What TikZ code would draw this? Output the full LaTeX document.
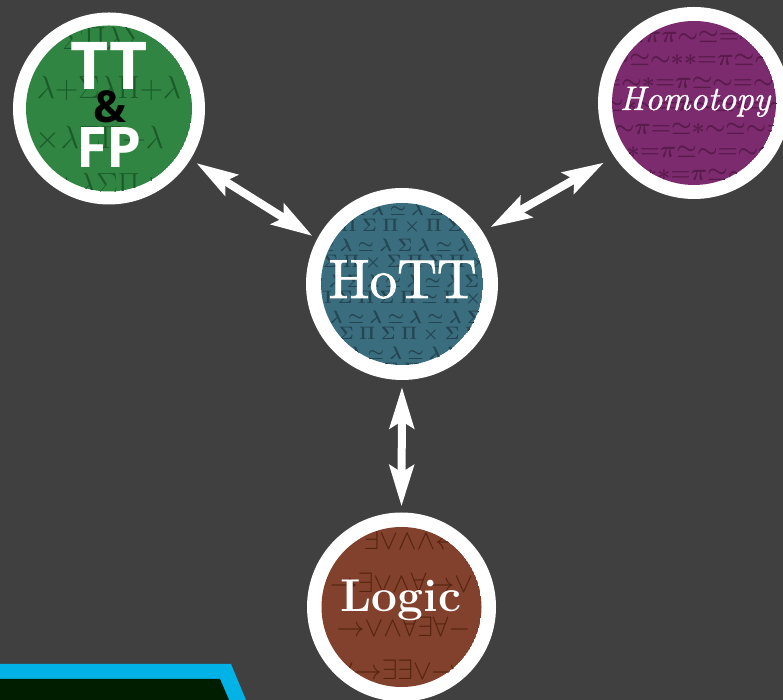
\RequirePackage{fix-cm}
\documentclass[tikz,border=0pt]{standalone}
\usepackage{fontspec}
\newfontfamily\headsans{Open Sans}
\newfontfamily\heavyserif{lmroman10-regular.otf}[FakeBold=1.6]
\newfontfamily\swashserif{lmroman10-italic.otf}[FakeBold=0.8]
\usetikzlibrary{arrows.meta}

\definecolor{bg}{HTML}{404040}
\definecolor{ttfill}{HTML}{2F8541}
\definecolor{ttglyph}{HTML}{1B5A29}
\definecolor{hottfill}{HTML}{3A6E7F}
\definecolor{hottglyph}{HTML}{244652}
\definecolor{homfill}{HTML}{7D2B6F}
\definecolor{homglyph}{HTML}{5A1A4C}
\definecolor{logfill}{HTML}{82412C}
\definecolor{logglyph}{HTML}{55230F}
\definecolor{bannerblue}{HTML}{00B2E6}
\definecolor{bannerdark}{HTML}{011E01}

\tikzset{
  disk/.style={circle, fill=white, minimum size=192pt, inner sep=0pt, outer sep=0pt},
  glyphs/.style={inner sep=0pt, anchor=center, font=\fontsize{#1}{#1}\selectfont},
  heavyglyphs/.style={inner sep=0pt, anchor=center, font=\fontsize{#1}{#1}\selectfont\boldmath},
  label/.style={inner sep=0pt, anchor=base, text=white},
  link/.style={white, line width=8pt,
    {Stealth[length=41pt,width=24pt,inset=7pt]}-{Stealth[length=41pt,width=24pt,inset=7pt]}},
}

\begin{document}
\begin{tikzpicture}[x=1pt,y=1pt]
\useasboundingbox (0,0) rectangle (783,700);
\fill[bg] (0,0) rectangle (783,700);

% banner in the lower left corner
\fill[bannerblue] (0,0) -- (0,36) -- (231,36) -- (246,0) -- cycle;
\fill[bannerdark] (0,0) -- (0,21) -- (220,21) -- (229,0) -- cycle;

% white rings
\node[disk] (tt) at (109,591.5) {};
\node[disk] (hott) at (402,416) {};
\node[disk] (hom) at (694,597) {};
\node[disk, minimum size=189pt] (logic) at (401.5,93) {};

% type theory & functional programming
\begin{scope}[shift={(tt.center)}]
  \clip (0,0) circle (83);
  \fill[ttfill] (0,0) circle (83);
  \node[glyphs=32, text=ttglyph] (tt-g1) at (-5,70) {${\Sigma}{\Pi}{\lambda}{\Sigma}$};
  \node[glyphs=32, text=ttglyph] (tt-g2) at (0,20) {${\lambda}{+}{\Sigma}{\lambda}{\Pi}{+}{\lambda}$};
  \node[glyphs=32, text=ttglyph] (tt-g3) at (-9,-30) {${\times}{\lambda}{\Sigma}{\Pi}{+}{\lambda}$};
  \node[glyphs=32, text=ttglyph] (tt-g4) at (0,-77) {${+}{\lambda}{\Sigma}{\Pi}{+}$};
\end{scope}

% homotopy type theory
\begin{scope}[shift={(hott.center)}]
  \clip (0,0) circle (81);
  \fill[hottfill] (0,0) circle (81);
  \node[heavyglyphs=18, text=hottglyph] (hott-g1) at (4,75) {${\simeq}\;{\lambda}\;{\simeq}\;{\lambda}\;{\simeq}\;{\lambda}\;{\Sigma}\;{\lambda}\;{\simeq}\;{\lambda}$};
  \node[heavyglyphs=18, text=hottglyph] (hott-g2) at (0,57) {${\times}\;{\Sigma}\;{\Pi}\;{\Sigma}\;{\Pi}\;{\times}\;{\Pi}\;{\Sigma}\;{\Pi}\;{\times}$};
  \node[heavyglyphs=18, text=hottglyph] (hott-g3) at (-6,39) {${\lambda}\;{\simeq}\;{\lambda}\;{\simeq}\;{\lambda}\;{\Sigma}\;{\lambda}\;{\simeq}\;{\lambda}\;{\simeq}$};
  \node[heavyglyphs=18, text=hottglyph] (hott-g4) at (3,21) {${\Pi}\;{\Sigma}\;{\Pi}\;{\times}\;{\Sigma}\;{\Pi}\;{\Sigma}\;{\Pi}\;{\times}\;{\Pi}$};
  \node[heavyglyphs=18, text=hottglyph] (hott-g5) at (0,3) {${\simeq}\;{\lambda}\;{\Sigma}\;{\lambda}\;{\simeq}\;{\lambda}\;{\simeq}\;{\lambda}\;{\Sigma}\;{\lambda}$};
  \node[heavyglyphs=18, text=hottglyph] (hott-g6) at (-4,-15) {${\times}\;{\Pi}\;{\Sigma}\;{\Pi}\;{\Sigma}\;{\Pi}\;{\simeq}\;{\Pi}\;{\times}\;{\Sigma}$};
  \node[heavyglyphs=18, text=hottglyph] (hott-g7) at (2,-33) {${\simeq}\;{\lambda}\;{\simeq}\;{\lambda}\;{\simeq}\;{\lambda}\;{\simeq}\;{\lambda}\;{\Sigma}\;{\lambda}$};
  \node[heavyglyphs=18, text=hottglyph] (hott-g8) at (-2,-51) {${\Sigma}\;{\Pi}\;{\Sigma}\;{\Pi}\;{\Sigma}\;{\Pi}\;{\times}\;{\Sigma}\;{\Pi}\;{\times}$};
  \node[heavyglyphs=18, text=hottglyph] (hott-g9) at (4,-69) {${\lambda}\;{\simeq}\;{\lambda}\;{\simeq}\;{\lambda}\;{\simeq}\;{\lambda}\;{\Sigma}\;{\lambda}\;{\simeq}$};
  \node[heavyglyphs=18, text=hottglyph] (hott-g10) at (0,-87) {${\Pi}\;{\times}\;{\Sigma}\;{\Pi}\;{\Sigma}\;{\Pi}\;{\times}\;{\Pi}\;{\Sigma}\;{\Pi}$};
\end{scope}

% homotopy theory
\begin{scope}[shift={(hom.center)}]
  \clip (0,0) circle (82);
  \fill[homfill] (0,0) circle (82);
  \node[heavyglyphs=23, text=homglyph] (hom-g0) at (0,89) {${\sim}{=}{\simeq}{\pi}{\pi}{\sim}{=}{\ast}{\simeq}{\pi}$};
  \node[heavyglyphs=23, text=homglyph] (hom-g1) at (6,66) {${\ast}{\simeq}{\pi}{\pi}{\sim}{\simeq}{=}{\sim}{\ast}{\pi}$};
  \node[heavyglyphs=23, text=homglyph] (hom-g2) at (8,43) {${\sim}{\simeq}{\sim}{\ast}{\ast}{=}{\pi}{\simeq}{\sim}{=}$};
  \node[heavyglyphs=23, text=homglyph] (hom-g3) at (0,20) {${=}{\sim}{\ast}{=}{\pi}{\simeq}{\sim}{=}{\sim}{\ast}$};
  \node[heavyglyphs=23, text=homglyph] (hom-g4) at (2,-3) {${\simeq}{\ast}{\sim}{=}{\pi}{\sim}{\simeq}{\ast}{=}{\sim}$};
  \node[heavyglyphs=23, text=homglyph] (hom-g5) at (-2,-26) {${\pi}{\sim}{\pi}{=}{\simeq}{\ast}{\sim}{\simeq}{\sim}{=}$};
  \node[heavyglyphs=23, text=homglyph] (hom-g6) at (3,-49) {${\sim}{\ast}{=}{\pi}{\simeq}{\sim}{=}{\sim}{\pi}{\ast}$};
  \node[heavyglyphs=23, text=homglyph] (hom-g7) at (0,-72) {${\simeq}{\sim}{\ast}{\ast}{=}{\pi}{\simeq}{\sim}{=}{\pi}$};
\end{scope}

% logic
\begin{scope}[shift={(logic.center)}]
  \clip (0,0) circle (80);
  \fill[logfill] (0,0) circle (80);
  \node[glyphs=28, text=logglyph] (logic-g1) at (12,67) {${\exists}{\vee}{\wedge}{\wedge}{\leftarrow}$};
  \node[glyphs=28, text=logglyph] (logic-g2) at (0,24) {${\to}{\exists}{\vee}{\wedge}{\forall}{\to}{\vee}$};
  \node[glyphs=28, text=logglyph] (logic-g3) at (2,-21) {${\to}{\vee}{\wedge}{\forall}{\exists}{\forall}{-}$};
  \node[glyphs=28, text=logglyph] (logic-g4) at (-4,-63) {${\vee}{\to}{\exists}{\exists}{\vee}{\to}$};
\end{scope}

% labels
\node[label, font=\headsans\bfseries\fontsize{66}{66}\selectfont] (tt-top) at (109,610) {TT};
\node[label, text=black, font=\headsans\bfseries\fontsize{44}{44}\selectfont] (tt-amp) at (110,577) {\&};
\node[label, font=\headsans\bfseries\fontsize{56}{56}\selectfont] (tt-bottom) at (109,532) {FP};
\node[label, font=\heavyserif\fontsize{55}{55}\selectfont] (hott-text) at (402.5,402) {HoTT};
\node[label, font=\swashserif\fontsize{34}{34}\selectfont] (hom-text) at (695,590) {Homotopy};
\node[label, font=\bfseries\fontsize{46}{46}\selectfont] (logic-text) at (401,88) {Logic};

% connections
\draw[link, shorten <=7pt, shorten >=5.5pt] (tt.-32) -- (hott.152);
\draw[link, shorten <=9pt, shorten >=12pt] (hott.33) -- (hom.214);
\draw[link, shorten <=7pt, shorten >=6pt] (hott.south) -- (logic.north);
\end{tikzpicture}
\end{document}
